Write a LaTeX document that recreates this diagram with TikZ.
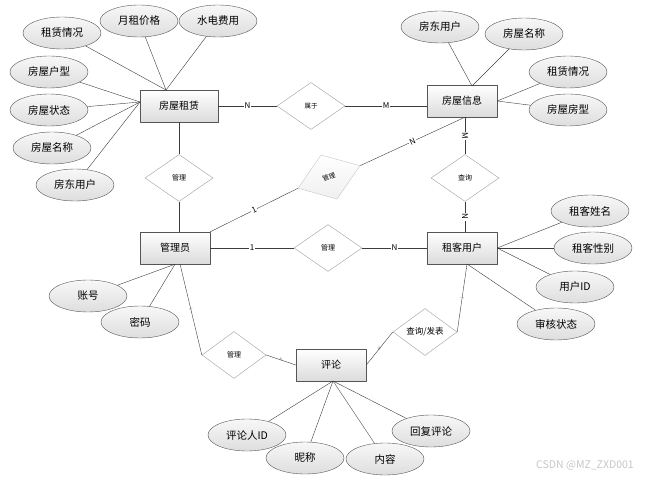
\documentclass[tikz,border=0pt]{standalone}
\usepackage{fontspec}
\setmainfont{Noto Sans CJK SC}
\usetikzlibrary{shapes.geometric}
\definecolor{boxline}{HTML}{555555}
\definecolor{linkline}{HTML}{3C3C3C}
\tikzstyle{entity} = [draw=boxline, rectangle, top color=white, bottom color=gray!28, minimum width=70pt, minimum height=32pt, inner sep=1pt, font=\fontsize{10}{12}\selectfont]
\tikzstyle{attrib} = [draw=boxline, ellipse, top color=gray!6, bottom color=gray!26, minimum width=78pt, minimum height=32pt, inner sep=0pt, font=\fontsize{10.5}{12}\selectfont]
\tikzstyle{relation} = [draw=gray!75, diamond, fill=white, minimum width=68pt, minimum height=47pt, inner sep=0pt, font=\fontsize{7}{8}\selectfont]
\tikzstyle{card} = [fill=white, inner sep=1pt, font=\fontsize{8}{9}\selectfont]
\tikzstyle{tick} = [inner sep=0.5pt, text=gray, font=\fontsize{4}{4}\selectfont, sloped]

\begin{document}
\begin{tikzpicture}[x=1pt, y=-1pt, line join=round]
            \useasboundingbox (0,0) rectangle (653,481);

            % Entities
            \node[entity, minimum width=78pt] (rent) at (179, 106) {房屋租赁};
            \node[entity] (info) at (462, 101) {房屋信息};
            \node[entity] (admin) at (175, 248) {管理员};
            \node[entity] (tenant) at (462, 248) {租客用户};
            \node[entity] (comment) at (331, 365) {评论};

            % Relations
            \node[relation, font=\fontsize{6.5}{7}\selectfont] (belong) at (311, 106) {属于};
            \node[relation] (manage1) at (179, 178) {管理};
            \node[relation, draw=gray!45, top color=white, bottom color=gray!12, rotate=20, minimum width=66pt, font=\fontsize{6.5}{7}\selectfont] (manage2) at (329, 177) {管理};
            \node[relation] (query) at (465, 178) {查询};
            \node[relation] (manage3) at (328, 248) {管理};
            \node[relation, minimum width=64pt] (manage4) at (234, 355) {管理};
            \node[relation, minimum width=64pt, font=\fontsize{8.5}{9}\selectfont] (publish) at (425, 332) {查询/发表};

            % Attributes of 房屋租赁
            \node[attrib] (rentA) at (62, 33) {租赁情况};
            \node[attrib] (rentB) at (139, 21) {月租价格};
            \node[attrib] (rentC) at (218, 21) {水电费用};
            \node[attrib] (rentD) at (49, 72) {房屋户型};
            \node[attrib] (rentE) at (49, 110) {房屋状态};
            \node[attrib] (rentF) at (52, 148) {房屋名称};
            \node[attrib] (rentG) at (75, 185) {房东用户};
            \coordinate (rentTop) at (166, 90);
            \coordinate (rentLeft) at (140, 102);

            % Attributes of 房屋信息
            \node[attrib] (infoA) at (440, 27) {房东用户};
            \node[attrib] (infoB) at (524, 34) {房屋名称};
            \node[attrib] (infoC) at (568, 72) {租赁情况};
            \node[attrib] (infoD) at (568, 110) {房屋房型};
            \coordinate (infoTop) at (472, 86);

            % Attributes of 租客用户
            \node[attrib] (tenantA) at (590, 211) {租客姓名};
            \node[attrib] (tenantB) at (593, 248) {租客性别};
            \node[attrib] (tenantC) at (575, 287) {用户ID};
            \node[attrib] (tenantD) at (556, 324) {审核状态};
            \coordinate (tenantBottom) at (467, 264);

            % Attributes of 管理员 and 评论
            \node[attrib] (adminA) at (88, 296) {账号};
            \node[attrib] (adminB) at (140, 322) {密码};
            \node[attrib] (commentA) at (247, 435) {评论人ID};
            \node[attrib] (commentB) at (305, 458) {昵称};
            \node[attrib] (commentC) at (385, 459) {内容};
            \node[attrib] (commentD) at (431, 431) {回复评论};
            \coordinate (commentBottom) at (333, 381);

            % Attribute lines
            \begin{scope}[draw=linkline]
            \draw (rentA) -- (rentTop);
            \draw (rentB) -- (rentTop);
            \draw (rentC) -- (rentTop);
            \draw (rentD) -- (rentLeft);
            \draw (rentE) -- (rentLeft);
            \draw (rentF) -- (rentLeft);
            \draw (rentG) -- (rentLeft);
            \draw (infoA) -- (infoTop);
            \draw (infoB) -- (infoTop);
            \draw (infoC) -- (info.east);
            \draw (infoD) -- (info.east);
            \draw (tenantA) -- (tenant.east);
            \draw (tenantB) -- (tenant.east);
            \draw (tenantC) -- (tenant.east);
            \draw (tenantD) -- (tenantBottom);
            \draw (adminA) -- (admin.south);
            \draw (adminB) -- (admin.south);
            \draw (commentA) -- (commentBottom);
            \draw (commentB) -- (commentBottom);
            \draw (commentC) -- (commentBottom);
            \draw (commentD) -- (commentBottom);
            \end{scope}

            % Relation lines with cardinalities
            \begin{scope}[draw=linkline]
            \draw (rent.east) -- node[card, pos=0.5] {N} (belong.west);
            \draw (belong.east) -- node[card, pos=0.5] {M} (belong.east -| info.west);
            \draw (manage1.north) -- (manage1 |- rent.south);
            \draw (manage1.south) -- (manage1 |- admin.north);
            \draw (admin.north east) -- node[card, sloped, pos=0.5] {1} (manage2.west);
            \draw (manage2.east) -- node[card, sloped, pos=0.5] {N} (query |- info.south);
            \draw (query.north) -- node[card, rotate=-90, pos=0.5] {M} (query |- info.south);
            \draw (query.south) -- node[card, rotate=-90, pos=0.5] {N} (query |- tenant.north);
            \draw (admin.east) -- node[card, pos=0.5] {1} (manage3.west);
            \draw (manage3.east) -- node[card, pos=0.5] {N} (tenant.west);
            \draw (180, 264) coordinate (adminBottom) -- node[tick, pos=0.5] {1} (manage4.west);
            \draw (manage4.east) -- node[tick, pos=0.5] {N} (comment.west);
            \draw (comment.east) -- node[tick, pos=0.5] {N} (publish.west);
            \draw (publish.east) -- node[tick, pos=0.5] {1} (tenantBottom);
            \end{scope}

            % Watermark
            \node[text=gray!45, font=\fontsize{10.5}{12}\selectfont] (mark) at (585, 465) {CSDN @MZ\_ZXD001};
        \end{tikzpicture}
\end{document}
